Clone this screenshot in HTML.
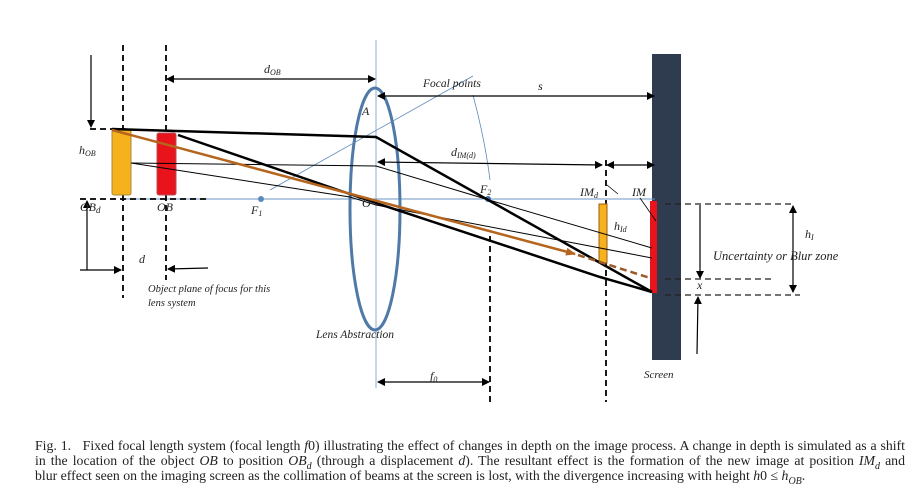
<!DOCTYPE html>
<html><head><style>
body{margin:0;background:#fff;}
svg{display:block}
.cap{position:absolute;left:35px;width:870px;font:13.8px/15px "Liberation Serif",serif;text-align:justify;text-align-last:justify;color:#222;white-space:nowrap;}
.cap.l3{text-align-last:left;}
</style></head><body>
<div style="position:relative;width:915px;height:504px;overflow:hidden">
<svg width="915" height="504" viewBox="0 0 915 504" xmlns="http://www.w3.org/2000/svg">
<defs>
<marker id="ar" markerWidth="8" markerHeight="8" refX="7" refY="4" orient="auto" markerUnits="userSpaceOnUse"><path d="M0,0 L8,4 L0,8 z" fill="#000"/></marker>
<marker id="ab" markerWidth="8" markerHeight="8" refX="1" refY="4" orient="auto" markerUnits="userSpaceOnUse"><path d="M8,0 L0,4 L8,8 z" fill="#000"/></marker>
<marker id="ao" markerWidth="10" markerHeight="8" refX="9" refY="4" orient="auto" markerUnits="userSpaceOnUse"><path d="M0,0 L10,4 L0,8 z" fill="#b5651d"/></marker>
</defs>
<g font-family="Liberation Serif,serif" font-style="italic" font-size="12" fill="#222">
<rect x="652" y="54" width="29" height="306" fill="#2f3b4f"/>
<line x1="120" y1="199" x2="655" y2="199" stroke="#6a95c0" stroke-width="1"/>
<line x1="376" y1="40" x2="376" y2="388" stroke="#8aaed0" stroke-width="1"/>
<ellipse cx="375" cy="209" rx="25" ry="121" fill="none" stroke="#4f7aa8" stroke-width="3"/>
<line x1="270" y1="190" x2="473" y2="76" stroke="#5b8ab8" stroke-width="0.8"/>
<path d="M473,95 Q485,140 490,180" fill="none" stroke="#5b8ab8" stroke-width="0.8"/>
<g stroke="#000" stroke-width="1.8" stroke-dasharray="6,4" fill="none">
<line x1="123" y1="45" x2="123" y2="298"/>
<line x1="166" y1="45" x2="166" y2="280"/>
<line x1="90" y1="129" x2="125" y2="129"/>
<line x1="80" y1="199" x2="210" y2="199"/>
<line x1="606" y1="160" x2="606" y2="402"/>
<line x1="490" y1="236" x2="490" y2="405"/>
</g>
<g stroke="#222" stroke-width="1.2" stroke-dasharray="6,4">
<line x1="665" y1="204" x2="795" y2="204"/>
<line x1="665" y1="279" x2="775" y2="279"/>
<line x1="665" y1="295" x2="800" y2="295"/>
</g>
<rect x="112" y="129" width="19" height="66" rx="2" fill="#f6b21c" stroke="#a68a3a"/>
<rect x="157" y="133" width="19" height="62" rx="2" fill="#e8131b" stroke="#b0505a"/>
<rect x="599" y="204" width="8" height="59" fill="#f6b21c" stroke="#a05a10"/>
<rect x="650" y="201" width="7" height="92" fill="#e8131b"/>
<circle cx="261" cy="199" r="3" fill="#5b8ab8"/>
<circle cx="488" cy="199" r="3" fill="#3d6fa8"/>
<g stroke="#000" stroke-width="1" fill="none">
<polyline points="131,163 376,166 489,200 652,248"/>
<polyline points="131,163 350,197 376,205 652,258"/>
</g>
<g stroke="#000" stroke-width="2.5" fill="none">
<polyline points="112,129 376,137 652,292"/>
<polyline points="178,135 376,203 600,277 652,292"/>
</g>
<line x1="112" y1="130" x2="575" y2="254" stroke="#b5651d" stroke-width="2.5" marker-end="url(#ao)"/>
<line x1="578" y1="255" x2="650" y2="278" stroke="#9a5a2a" stroke-width="2.5" stroke-dasharray="7,4"/>
<g stroke="#000" stroke-width="1.2">
<line x1="91" y1="55" x2="91" y2="127" marker-end="url(#ar)"/>
<line x1="87" y1="270" x2="87" y2="201" marker-end="url(#ar)"/>
<line x1="80" y1="270" x2="121" y2="270" marker-end="url(#ar)"/>
<line x1="208" y1="268" x2="168" y2="269" marker-end="url(#ar)"/>
<line x1="167" y1="79" x2="375" y2="79" marker-start="url(#ab)" marker-end="url(#ar)"/>
<line x1="378" y1="96" x2="654" y2="96" marker-start="url(#ab)" marker-end="url(#ar)"/>
<line x1="378" y1="162" x2="602" y2="165" marker-start="url(#ab)" marker-end="url(#ar)"/>
<line x1="607" y1="165" x2="654" y2="165" marker-start="url(#ab)" marker-end="url(#ar)"/>
<line x1="378" y1="382" x2="489" y2="382" marker-start="url(#ab)" marker-end="url(#ar)"/>
<line x1="700" y1="205" x2="700" y2="278" marker-end="url(#ar)"/>
<line x1="793" y1="206" x2="793" y2="292" marker-start="url(#ab)" marker-end="url(#ar)"/>
<line x1="697" y1="354" x2="698" y2="297" marker-end="url(#ar)"/>
<line x1="607" y1="185" x2="618" y2="194" stroke-width="0.8"/>
<line x1="640" y1="198" x2="656" y2="221" stroke-width="0.8"/>
</g>
<text x="264" y="73">d<tspan font-size="8" dy="2">OB</tspan></text>
<text x="538" y="90">s</text>
<text x="423" y="87" font-size="11.5">Focal points</text>
<text x="362" y="115">A</text>
<text x="451" y="156">d<tspan font-size="8" dy="2">IM(d)</tspan></text>
<text x="79" y="154">h<tspan font-size="8" dy="2">OB</tspan></text>
<text x="80" y="211">OB<tspan font-size="9" dy="2">d</tspan></text>
<text x="157" y="211">OB</text>
<text x="251" y="214">F<tspan font-size="8" dy="2">1</tspan></text>
<text x="362" y="207">O</text>
<text x="480" y="193">F<tspan font-size="8" dy="2">2</tspan></text>
<text x="580" y="196">IM<tspan font-size="8" dy="2">d</tspan></text>
<text x="632" y="196">IM</text>
<text x="614" y="230">h<tspan font-size="8" dy="2">Id</tspan></text>
<text x="805" y="238">h<tspan font-size="8" dy="2">I</tspan></text>
<text x="697" y="289">x</text>
<text x="139" y="263">d</text>
<text x="430" y="380">f<tspan font-size="8" dy="2">0</tspan></text>
<text x="713" y="260" font-size="12.5">Uncertainty or Blur zone</text>
<text x="644" y="378" font-size="11">Screen</text>
<text x="316" y="338" font-size="11.5">Lens Abstraction</text>
<text x="148" y="292" font-size="10.5">Object plane of focus for this</text>
<text x="148" y="306" font-size="10.5">lens system</text>
</g>
</svg>
<div class="cap" style="top:438px">Fig. 1.&nbsp;&nbsp; Fixed focal length system (focal length <i>f</i>0) illustrating the effect of changes in depth on the image process. A change in depth is simulated as a shift</div>
<div class="cap" style="top:453px">in the location of the object <i>OB</i> to position <i>OB<sub style="font-size:10px;line-height:0">d</sub></i> (through a displacement <i>d</i>). The resultant effect is the formation of the new image at position <i>IM<sub style="font-size:10px;line-height:0">d</sub></i> and</div>
<div class="cap l3" style="top:468px">blur effect seen on the imaging screen as the collimation of beams at the screen is lost, with the divergence increasing with height <i>h</i>0 ≤ <i>h<sub style="font-size:10px;line-height:0">OB</sub></i>.</div>
</div>
</body></html>
